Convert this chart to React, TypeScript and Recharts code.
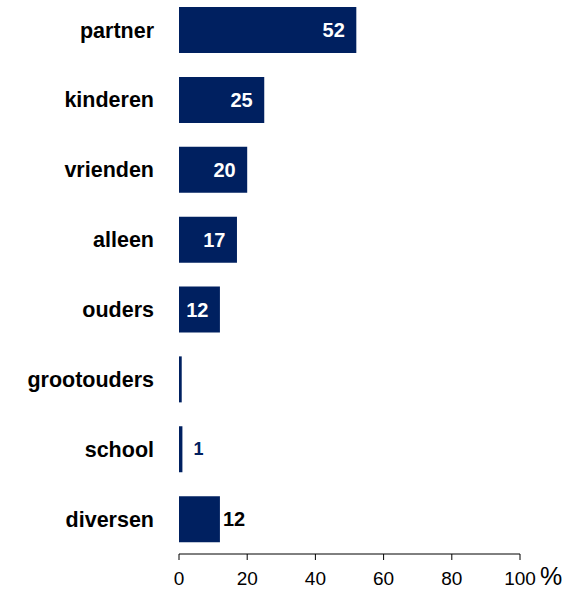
import { BarChart, Bar, XAxis, YAxis, LabelList } from "recharts";

const categories = [
  "partner",
  "kinderen",
  "vrienden",
  "alleen",
  "ouders",
  "grootouders",
  "school",
  "diversen",
];
const values = [52, 25, 20, 17, 12, 0.8, 1, 12];
const valueLabels = ["52", "25", "20", "17", "12", "", "1", "12"];
const xTicks = [0, 20, 40, 60, 80, 100];

const data = categories.map((name, i) => ({
  name,
  value: values[i],
  label: valueLabels[i],
}));

const NAVY = "#002060";
const FONT = "'Liberation Sans', Arial, sans-serif";

// big bars get a white label inside, small ones sit just outside
const renderLabel = (props: any) => {
  const { x, y, width, height, index } = props;
  const text = valueLabels[index];
  if (!text) return null;
  const cy = y + height / 2;
  if (values[index] >= 5 && categories[index] !== "diversen") {
    return (
      <text
        x={x + width - 11.5}
        y={cy}
        textAnchor="end"
        dominantBaseline="central"
        fill="#fff"
        fontWeight="bold"
        fontSize={20}
        fontFamily={FONT}
      >
        {text}
      </text>
    );
  }
  const isSchool = categories[index] === "school";
  return (
    <text
      x={x + width + (isSchool ? 11 : 3)}
      y={cy}
      textAnchor="start"
      dominantBaseline="central"
      fill={isSchool ? NAVY : "#000"}
      fontWeight="bold"
      fontSize={isSchool ? 18 : 20}
      fontFamily={FONT}
    >
      {text}
    </text>
  );
};

export default function App() {
  return (
    <div
      style={{
        position: "absolute",
        left: 0,
        top: 0,
        width: 579,
        height: 589,
        overflow: "hidden",
        background: "#fff",
        fontFamily: FONT,
      }}
    >
      <div style={{ position: "absolute", left: 0, top: -5 }}>
        <BarChart
          width={579}
          height={605}
          data={data}
          layout="vertical"
          margin={{ top: 0, right: 59, bottom: 0, left: 0 }}
          barSize={46}
        >
          <XAxis
            type="number"
            domain={[0, 100]}
            ticks={xTicks}
            height={46}
            axisLine={{ stroke: "#000" }}
            tickLine={{ stroke: "#000" }}
            tickSize={6}
            tickMargin={12}
            tick={{ fill: "#000", fontSize: 19, fontFamily: FONT }}
            interval={0}
          />
          <YAxis
            type="category"
            dataKey="name"
            width={179}
            axisLine={false}
            tickLine={false}
            tickSize={0}
            tickMargin={25}
            tick={{ fill: "#000", fontSize: 21.5, fontWeight: "bold", fontFamily: FONT }}
            interval={0}
          />
          <Bar dataKey="value" fill={NAVY} isAnimationActive={false}>
            <LabelList dataKey="label" content={renderLabel} />
          </Bar>
        </BarChart>
      </div>
      <div
        style={{
          position: "absolute",
          left: 540,
          top: 564,
          fontSize: 25,
          lineHeight: "25px",
          color: "#000",
        }}
      >
        %
      </div>
    </div>
  );
}
